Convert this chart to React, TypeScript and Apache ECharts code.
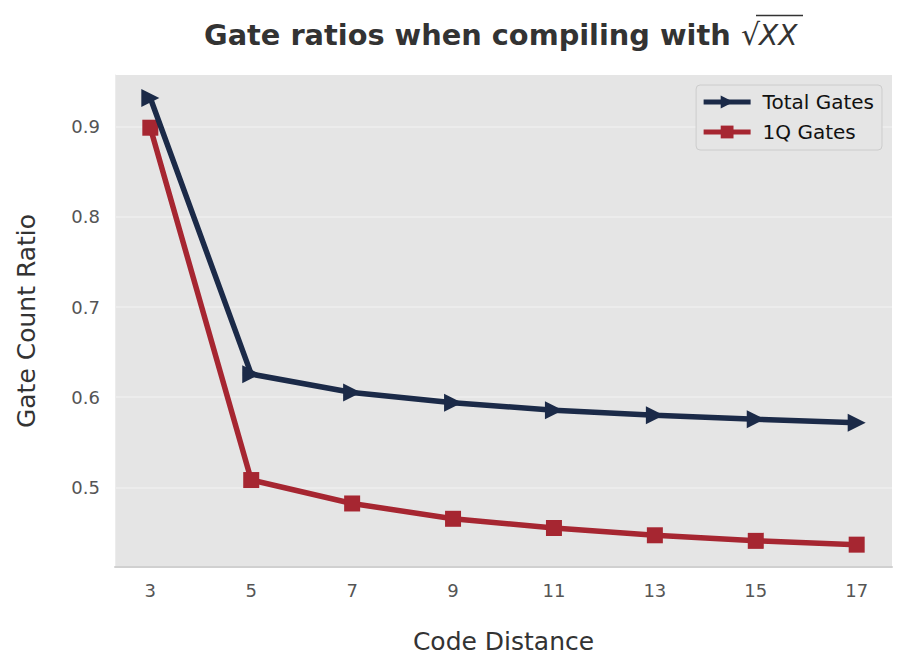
import React, { useEffect, useRef } from "react";
import * as echarts from "echarts";

const distances = [3, 5, 7, 9, 11, 13, 15, 17];
const totalGates = [0.932, 0.6255, 0.6052, 0.5937, 0.5855, 0.5800, 0.5755, 0.5715];
const oneQGates = [0.899, 0.508, 0.482, 0.465, 0.4548, 0.4467, 0.4405, 0.4363];
const xTicks = [3, 5, 7, 9, 11, 13, 15, 17];
const yTicks = [0.5, 0.6, 0.7, 0.8, 0.9];

const FONT = "DejaVu Sans";

export default function App() {
  const ref = useRef<HTMLDivElement>(null);
  useEffect(() => {
    const chart = echarts.init(ref.current!, null, { renderer: "svg" });
    chart.setOption({
      animation: false,
      backgroundColor: "#ffffff",
      graphic: [
        {
          type: "text",
          x: 204,
          y: 35,
          style: {
            text: "Gate ratios when compiling with",
            fontFamily: FONT,
            fontWeight: "bold",
            fontSize: 28.8,
            fill: "#333333",
            align: "left",
            verticalAlign: "middle",
          },
        },
        {
          type: "text",
          x: 741,
          y: 34,
          style: {
            text: "√",
            fontFamily: FONT,
            fontSize: 30,
            fill: "#333333",
            align: "left",
            verticalAlign: "middle",
          },
        },
        {
          type: "text",
          x: 759,
          y: 35,
          style: {
            text: "XX",
            fontFamily: FONT,
            fontStyle: "italic",
            fontSize: 28,
            fill: "#333333",
            align: "left",
            verticalAlign: "middle",
          },
        },
        {
          type: "line",
          shape: { x1: 756, y1: 15.5, x2: 803, y2: 15.5 },
          style: { stroke: "#333333", lineWidth: 1.5 },
        },
      ],
      legend: {
        right: 24,
        top: 85,
        orient: "vertical",
        itemWidth: 47,
        itemHeight: 16,
        itemGap: 10,
        backgroundColor: "#e5e5e5",
        borderColor: "#cccccc",
        borderWidth: 1,
        borderRadius: 4,
        padding: [7, 8, 8, 5],
        lineStyle: { width: 5 },
        textStyle: { fontFamily: FONT, fontSize: 20, color: "#111111", padding: [0, 0, 0, 7] },
        data: ["Total Gates", "1Q Gates"],
      },
      grid: {
        left: 115,
        right: 14,
        top: 75,
        bottom: 103,
        show: true,
        backgroundColor: "#e5e5e5",
        borderWidth: 0,
      },
      xAxis: {
        type: "value",
        min: 2.3,
        max: 17.7,
        name: "Code Distance",
        nameLocation: "middle",
        nameGap: 62,
        nameTextStyle: { fontFamily: FONT, fontSize: 25, color: "#333333" },
        axisLine: { show: true, lineStyle: { color: "#d0d0d0", width: 2 } },
        axisTick: { show: false, customValues: xTicks },
        axisLabel: {
          customValues: xTicks,
          fontFamily: FONT,
          fontSize: 18,
          color: "#555555",
          margin: 14,
        },
        splitLine: { show: false },
      },
      yAxis: {
        type: "value",
        min: 0.4115,
        max: 0.9575,
        name: "Gate Count Ratio",
        nameLocation: "middle",
        nameGap: 76,
        nameTextStyle: { fontFamily: FONT, fontSize: 25, color: "#333333" },
        axisLine: { show: true, lineStyle: { color: "#ececec", width: 1 } },
        axisTick: { show: false, customValues: yTicks },
        axisLabel: {
          customValues: yTicks,
          fontFamily: FONT,
          fontSize: 18,
          color: "#555555",
          margin: 15,
          formatter: (v: number) => v.toFixed(1),
        },
        splitLine: { show: true, lineStyle: { color: "#eeeeee", width: 1.5 } },
      },
      series: [
        {
          name: "Total Gates",
          type: "line",
          data: distances.map((d, i) => [d, totalGates[i]]),
          color: "#1b2a48",
          lineStyle: { width: 5.5, color: "#1b2a48" },
          symbol: "triangle",
          symbolRotate: -90,
          symbolSize: 18,
          itemStyle: { color: "#1b2a48" },
          z: 3,
        },
        {
          name: "1Q Gates",
          type: "line",
          data: distances.map((d, i) => [d, oneQGates[i]]),
          color: "#a62631",
          lineStyle: { width: 5.5, color: "#a62631" },
          symbol: "rect",
          symbolSize: 16,
          itemStyle: { color: "#a62631" },
          z: 2,
        },
      ],
    });
    return () => chart.dispose();
  }, []);
  return (
    <div
      ref={ref}
      style={{ position: "fixed", left: 0, top: 0, width: 906, height: 670 }}
    />
  );
}
